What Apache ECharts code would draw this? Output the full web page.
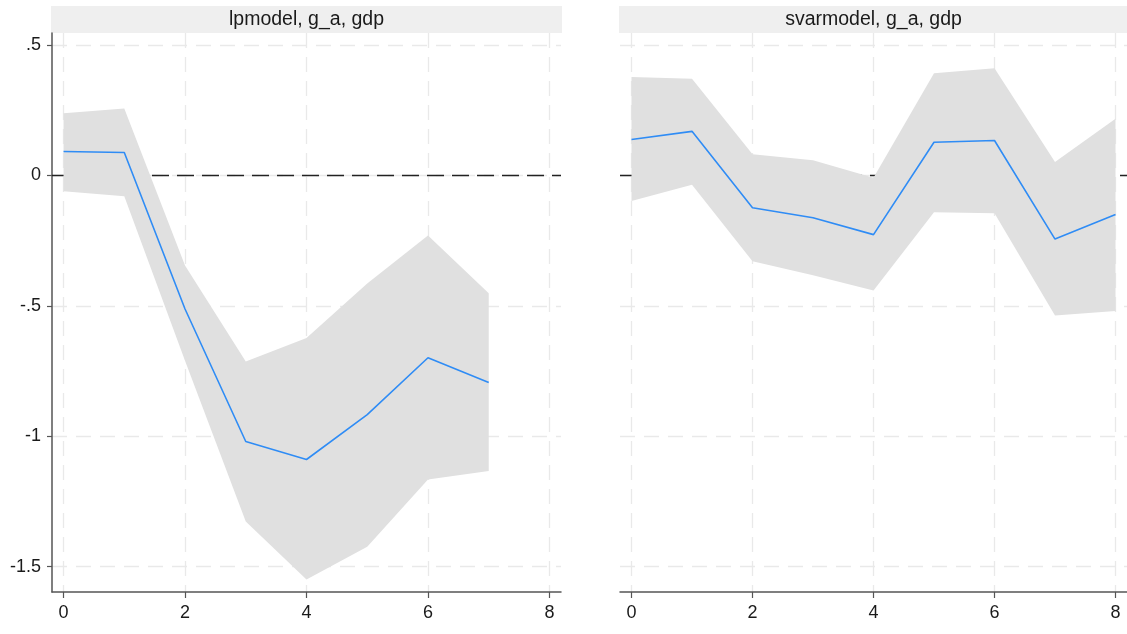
<!DOCTYPE html>
<html>
<head>
<meta charset="utf-8">
<title>Impulse responses: g_a on gdp</title>
<script src="https://cdn.jsdelivr.net/npm/echarts@6/dist/echarts.min.js"></script>
<style>
  html, body { margin: 0; padding: 0; background: #ffffff; }
  #chart { width: 1127px; height: 634px; }
</style>
</head>
<body>
<div id="chart"></div>
<script>
// Horizons (steps after the shock)
const lpSteps = [0, 1, 2, 3, 4, 5, 6, 7];
const svarSteps = [0, 1, 2, 3, 4, 5, 6, 7, 8];

// Local projection model: response and confidence band
const lpIrf   = [0.092, 0.088, -0.512, -1.020, -1.089, -0.917, -0.699, -0.794];
const lpUpper = [0.238, 0.257, -0.345, -0.713, -0.623, -0.414, -0.230, -0.452];
const lpLower = [-0.061, -0.080, -0.710, -1.327, -1.549, -1.424, -1.166, -1.133];

// SVAR model: response and confidence band
const svarIrf   = [0.138, 0.169, -0.124, -0.162, -0.227, 0.127, 0.134, -0.244, -0.150];
const svarUpper = [0.377, 0.371, 0.081, 0.058, -0.009, 0.392, 0.411, 0.051, 0.217];
const svarLower = [-0.098, -0.036, -0.329, -0.383, -0.441, -0.141, -0.145, -0.537, -0.520];

// Axis ticks and their labels
const xTicks = [0, 2, 4, 6, 8];
const yTicks = [-1.5, -1, -0.5, 0, 0.5];
const yTickLabels = ['-1.5', '-1', '-.5', '0', '.5'];

const panelTitles = ['lpmodel, g_a, gdp', 'svarmodel, g_a, gdp'];

const FONT = '"Liberation Sans", Arial, sans-serif';
const GRID_COLOR = '#e9e9e9';
const BAND_COLOR = '#e0e0e0';
const LINE_COLOR = '#2f8cf5';
const AXIS_COLOR = '#555555';

const panels = [
  { steps: lpSteps, irf: lpIrf, upper: lpUpper, lower: lpLower, left: 52, showY: true },
  { steps: svarSteps, irf: svarIrf, upper: svarUpper, lower: svarLower, left: 620, showY: false }
];

const GRID_TOP = 33, GRID_HEIGHT = 559, GRID_WIDTH = 509;

const yLabelFor = v => {
  const i = yTicks.findIndex(t => Math.abs(t - v) < 1e-9);
  return i >= 0 ? yTickLabels[i] : '';
};

const grids = [], xAxes = [], yAxes = [], series = [], graphics = [];

panels.forEach((p, i) => {
  grids.push({ left: p.left, top: GRID_TOP, width: GRID_WIDTH, height: GRID_HEIGHT, containLabel: false });

  xAxes.push({
    type: 'value', gridIndex: i, min: -0.19, max: 8.19,
    axisLine: { show: true, onZero: false, lineStyle: { color: AXIS_COLOR, width: 1.5 } },
    axisTick: { show: true, length: 6, customValues: xTicks, lineStyle: { color: AXIS_COLOR, width: 1.2 } },
    axisLabel: { show: true, customValues: xTicks, margin: 12, fontSize: 18, fontFamily: FONT, color: '#1a1a1a' },
    splitLine: { show: true, lineStyle: { color: GRID_COLOR, width: 1.3, type: [15, 9] } }
  });

  yAxes.push({
    type: 'value', gridIndex: i, min: -1.597, max: 0.546,
    axisLine: { show: p.showY, onZero: false, lineStyle: { color: AXIS_COLOR, width: 1.5 } },
    axisTick: { show: p.showY, length: 5, customValues: yTicks, lineStyle: { color: AXIS_COLOR, width: 1.2 } },
    axisLabel: {
      show: p.showY, customValues: yTicks, margin: 11, fontSize: 18, fontFamily: FONT, color: '#1a1a1a',
      formatter: v => yLabelFor(v)
    },
    splitLine: { show: true, lineStyle: { color: GRID_COLOR, width: 1.3, type: [15, 9] } }
  });

  const bandRows = p.steps.map((s, k) => [s, p.lower[k], p.upper[k]]);
  const irfPts = p.steps.map((s, k) => [s, p.irf[k]]);

  // Confidence band: one polygon along the upper bound and back along the lower bound
  series.push({
    type: 'custom', xAxisIndex: i, yAxisIndex: i, z: 2, silent: true,
    data: bandRows,
    encode: { x: 0, y: [1, 2] },
    renderItem: (params, api) => {
      if (params.dataIndex !== 0) return null;
      const top = bandRows.map(r => api.coord([r[0], r[2]]));
      const bottom = bandRows.map(r => api.coord([r[0], r[1]])).reverse();
      return {
        type: 'polygon',
        shape: { points: top.concat(bottom) },
        style: { fill: BAND_COLOR, stroke: null }
      };
    }
  });
  // Point estimate, with the zero reference line beneath the band
  series.push({
    type: 'line', xAxisIndex: i, yAxisIndex: i, z: 3,
    data: irfPts, symbol: 'none', silent: true,
    lineStyle: { color: LINE_COLOR, width: 1.6 },
    markLine: {
      z: 1, silent: true, symbol: 'none', label: { show: false },
      lineStyle: { color: '#222222', width: 1.4, type: [17, 8] },
      data: [{ yAxis: 0 }]
    }
  });

  // Panel header strip with title
  const hx = p.left - 1, hw = i === 0 ? 511 : 509;
  graphics.push({
    type: 'rect', shape: { x: hx, y: 6, width: hw, height: 27 },
    style: { fill: '#efefef' }, silent: true, z: 0
  });
  graphics.push({
    type: 'text', x: hx + hw / 2, y: 19.5,
    style: { text: panelTitles[i], fill: '#1a1a1a', font: '19.5px ' + FONT, align: 'center', verticalAlign: 'middle' },
    silent: true, z: 1
  });
});

const chart = echarts.init(document.getElementById('chart'), null, { renderer: 'canvas' });
chart.setOption({
  animation: false,
  backgroundColor: '#ffffff',
  grid: grids,
  xAxis: xAxes,
  yAxis: yAxes,
  series: series,
  graphic: graphics
});
</script>
</body>
</html>
